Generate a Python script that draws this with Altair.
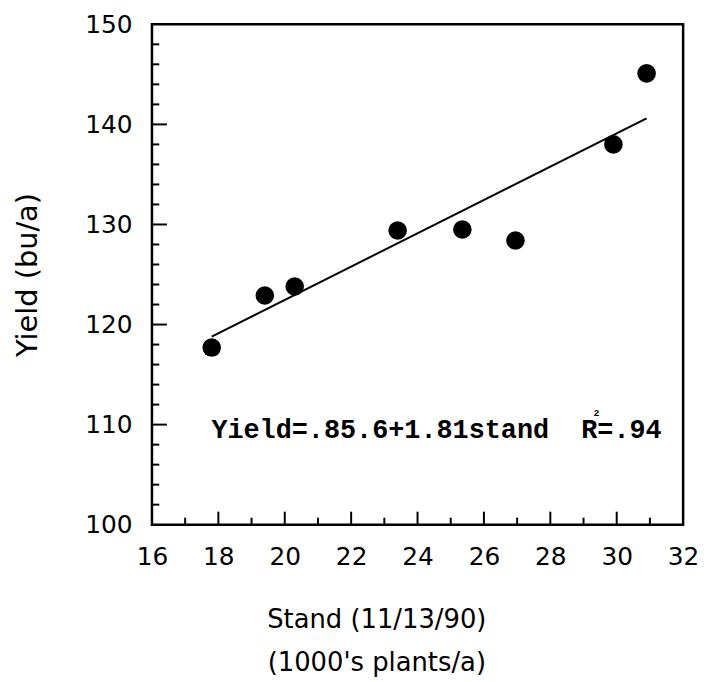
import altair as alt
import pandas as pd

# ---- data ----
stand = [17.8, 19.4, 20.3, 23.4, 25.35, 26.95, 29.9, 30.9]
yields = [117.7, 122.9, 123.8, 129.4, 129.5, 128.4, 138.0, 145.1]
fit_x = [17.8, 30.9]
fit_y = [118.8, 140.6]
x_labels = [16, 18, 20, 22, 24, 26, 28, 30, 32]
y_labels = [100, 110, 120, 130, 140, 150]
x_minor = [17, 19, 21, 23, 25, 27, 29, 31]
x_major = [18, 20, 22, 24, 26, 28, 30]
y_minor = [102, 104, 106, 108, 112, 114, 116, 118, 122, 124, 126, 128,
           132, 134, 136, 138, 142, 144, 146, 148]
y_major = [110, 120, 130, 140]
eq_text = ["Yield=.85.6+1.81stand\u00a0\u00a0R=.94"]
eq_pos = [17.79, 108.7]
sup_text = ["2"]
sup_pos = [29.3, 110.9]

FONT = "DejaVu Sans"
W, H = 535, 504

xs = alt.Scale(domain=[16, 32], nice=False, zero=False)
ys = alt.Scale(domain=[100, 150], nice=False, zero=False)

pts = pd.DataFrame({"x": stand, "y": yields})
fit = pd.DataFrame({"x": fit_x, "y": fit_y})

x_axis = alt.Axis(values=x_labels, ticks=False, domain=False, grid=False,
                  labelFont=FONT, labelFontSize=25, labelColor="black",
                  labelPadding=20, labelBaseline="top", labelFlush=False,
                  title=["Stand (11/13/90)", "(1000's plants/a)"],
                  titleFont=FONT, titleFontSize=26, titleFontWeight="normal",
                  titleColor="black", titleX=226, titleY=104,
                  titleAlign="center", titleBaseline="alphabetic",
                  titleLineHeight=43)
y_axis = alt.Axis(values=y_labels, ticks=False, domain=False, grid=False,
                  labelFont=FONT, labelFontSize=25, labelColor="black",
                  labelPadding=20, labelFlush=False,
                  title="Yield (bu/a)", titleFont=FONT, titleFontSize=29,
                  titleFontWeight="normal", titleColor="black",
                  titleX=-125, titleY=252, titleAngle=-90,
                  titleAlign="center", titleBaseline="middle")

points = alt.Chart(pts).mark_circle(size=350, color="black", opacity=1).encode(
    x=alt.X("x:Q", scale=xs, axis=x_axis),
    y=alt.Y("y:Q", scale=ys, axis=y_axis),
)

line = alt.Chart(fit).mark_line(color="black", strokeWidth=2).encode(
    x=alt.X("x:Q", scale=xs), y=alt.Y("y:Q", scale=ys))

# inward ticks
xt = pd.DataFrame({"x": x_minor + x_major,
                   "y0": [100] * (len(x_minor) + len(x_major)),
                   "y1": [100.7] * len(x_minor) + [101.3] * len(x_major)})
yt = pd.DataFrame({"y": y_minor + y_major,
                   "x0": [16] * (len(y_minor) + len(y_major)),
                   "x1": [16.22] * len(y_minor) + [16.45] * len(y_major)})
xticks = alt.Chart(xt).mark_rule(color="black", strokeWidth=2).encode(
    x=alt.X("x:Q", scale=xs), y=alt.Y("y0:Q", scale=ys), y2="y1:Q")
yticks = alt.Chart(yt).mark_rule(color="black", strokeWidth=2).encode(
    y=alt.Y("y:Q", scale=ys), x=alt.X("x0:Q", scale=xs), x2="x1:Q")

eq = alt.Chart(pd.DataFrame({"x": [eq_pos[0]], "y": [eq_pos[1]], "t": eq_text})).mark_text(
    font="Liberation Mono", fontSize=27, fontWeight="bold", color="black",
    align="left", baseline="alphabetic").encode(
    x=alt.X("x:Q", scale=xs), y=alt.Y("y:Q", scale=ys), text="t:N")
sup = alt.Chart(pd.DataFrame({"x": [sup_pos[0]], "y": [sup_pos[1]], "t": sup_text})).mark_text(
    font="Liberation Mono", fontSize=10, fontWeight="bold", color="black",
    align="left", baseline="alphabetic").encode(
    x=alt.X("x:Q", scale=xs), y=alt.Y("y:Q", scale=ys), text="t:N")

chart = alt.layer(points, line, xticks, yticks, eq, sup).properties(
    width=W, height=H,
    autosize=alt.AutoSizeParams(type="none"),
    padding={"left": 145, "top": 14, "right": 16, "bottom": 156},
    background="white",
).configure_view(stroke="black", strokeWidth=2.5)

chart.save("out.html", embed_options={"renderer": "svg", "actions": False})
